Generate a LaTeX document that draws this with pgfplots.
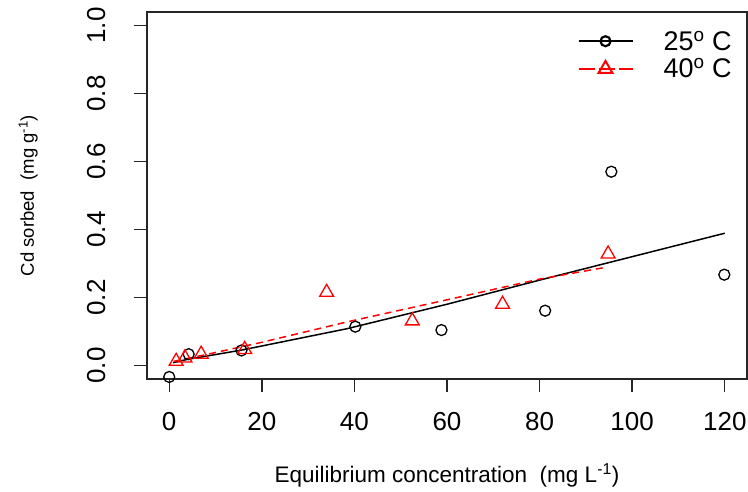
\documentclass[border=0pt]{standalone}
\usepackage{fontspec}
\setmainfont{Liberation Sans}
\usepackage{pgfplots}
\pgfplotsset{compat=1.18}
\begin{document}
\begin{tikzpicture}[x=1pt,y=1pt]
\path[use as bounding box] (0,0) rectangle (748,491);
\begin{axis}[
    at={(147pt,112pt)}, anchor=south west,
    scale only axis, width=600pt, height=367pt,
    xmin=-4.8, xmax=124.8, ymin=-0.04, ymax=1.04,
    axis line style={line width=1.4pt, black!85},
    xtick={0,20,40,60,80,100,120},
    ytick={0,0.2,0.4,0.6,0.8,1.0},
    xtick pos=bottom, ytick pos=left,
    tick align=outside, major tick length=13pt,
    tick style={line width=1.4pt, black!85},
    tick label style={font=\fontsize{26}{26}\selectfont},
    /pgf/number format/assume math mode=true,
    xticklabel style={yshift=-17pt},
    yticklabel style={xshift=-25pt, rotate=90, anchor=south,
        /pgf/number format/.cd, fixed, fixed zerofill, precision=1},
    xlabel={Equilibrium concentration \ (mg L\textsuperscript{-1})},
    ylabel={Cd sorbed \ (mg g\textsuperscript{-1})},
    xlabel style={font=\fontsize{22.5}{22.5}\selectfont,
        at={(axis description cs:0.5,-0.262)}, anchor=center},
    ylabel style={font=\fontsize{18.5}{18.5}\selectfont,
        at={(axis description cs:-0.198,0.5)}, anchor=center},
    legend style={at={(axis description cs:0.712,0.96)}, anchor=north west,
        draw=none, fill=none, font=\fontsize{27}{27}\selectfont,
        row sep=3pt, column sep=28pt},
    legend cell align=left,
    legend image code/.code={\draw[mark repeat=2, mark phase=2, #1]
        plot coordinates {(0pt,0pt) (27pt,0pt) (54pt,0pt)};},
]
% fitted curves
\addplot[black, line width=1.5pt, no marks, forget plot] coordinates {
    (0.8,0.008) (4,0.018) (15.6,0.045) (38.4,0.108) (60,0.180)
    (80,0.251) (100,0.320) (120,0.389)
};
\addplot[red, line width=1.5pt, dash pattern=on 7pt off 5pt, no marks, forget plot] coordinates {
    (1,0.012) (8,0.032) (20,0.068) (38.4,0.128) (60,0.193)
    (80,0.254) (94.4,0.289)
};
% 25 C
\addplot[black, line width=1.3pt, only marks, mark=o, mark size=5.5pt, forget plot] coordinates {
    (0,-0.034) (3.1,-0.049) (4.2,0.033) (15.6,0.044) (40.2,0.114)
    (58.8,0.104) (81.2,0.161) (95.5,0.570) (119.9,0.267)
};
% 40 C
\addplot[red, line width=1.3pt, only marks, mark=triangle, mark size=8pt, forget plot] coordinates {
    (1.5,0.012) (3.4,0.022) (6.9,0.033) (16.3,0.047) (34.0,0.215)
    (52.5,0.131) (72.0,0.180) (94.8,0.328)
};
\addlegendimage{black, line width=2.2pt, mark=o, mark size=5pt}
\addlegendentry{25\textsuperscript{o} C}
\addlegendimage{red, line width=2pt, dash pattern=on 16pt off 4pt, mark=triangle, mark size=8pt, mark options={solid}}
\addlegendentry{40\textsuperscript{o} C}
\end{axis}
\end{tikzpicture}
\end{document}
